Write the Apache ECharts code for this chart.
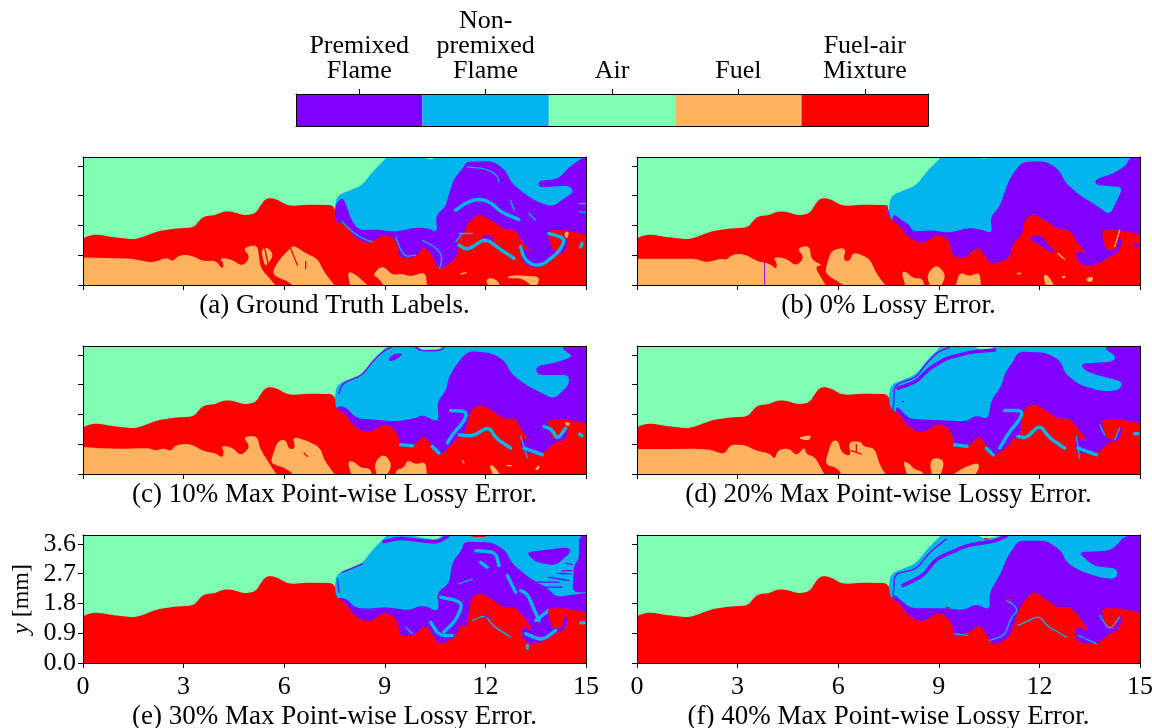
<!DOCTYPE html>
<html><head><meta charset="utf-8">
<script src="https://cdn.jsdelivr.net/npm/echarts@6/dist/echarts.min.js"></script>
<style>html,body{margin:0;padding:0;background:#fff}#c{width:1152px;height:728px}</style>
</head><body><div id="c"></div>
<script>
// Class names and colours of the colour bar
const classNames = ['Premixed\nFlame','Non-\npremixed\nFlame','Air','Fuel','Fuel-air\nMixture'];
const classColors = {P:'#8000ff',N:'#00b5eb',A:'#80ffb4',F:'#ffb360',M:'#ff0000'};
const barValues = [1,1,1,1,1];
const barKeys = ['P','N','A','F','M'];
const captions = ['(a) Ground Truth Labels.','(b) 0% Lossy Error.','(c) 10% Max Point-wise Lossy Error.','(d) 20% Max Point-wise Lossy Error.','(e) 30% Max Point-wise Lossy Error.','(f) 40% Max Point-wise Lossy Error.'];
const xTicks = [0,3,6,9,12,15];
const yTicks = [0,0.9,1.8,2.7,3.6];
const xMax = 15, yMax = 3.87;
const xUnit = 100.6, yUnit = 99.5;
const xEnd = 1509, yEnd = 385;

// Contours shared by all panels
const airBlock = [0,0,1509,0,1509,385,0,385];
const airEdge = [0,135,13,147,38,153,98,143,158,137,193,150,228,163,278,170,333,173,348,193,363,207,398,210,418,221,448,221,483,209,518,215,533,240,548,260,573,262,618,237,678,242,756,240];
const flameBlock = [756,240,763,270,838,300,868,340,898,370,923,385,1509,385,1509,0,756,0];
const lobeTail = [1448,100,1456,140,1443,140,1438,105,1408,103,1398,140,1393,165,1448,165,1509,150,1509,0,0,0];

// (a) Ground truth
const aPremixed = [756,240,778,265,790,240,803,200,826,165,878,167,938,160,998,173,1038,170,1063,157,1058,210,1088,235,1098,275,1113,320,1143,355,1148,370,1228,373,1268,345,1283,310,1323,275,1363,250,1408,235,1443,260,1473,280,1458,300,1368,293,1366,313,1428,320,1458,355,1509,385,1509,0,756,0];
const aMixture = [756,190,788,183,808,150,838,130,863,127,903,153,933,143,946,115,948,80,998,83,1018,113,1038,105,1063,55,1073,48,1108,70,1128,95,1118,125,1148,165,1153,185,1188,215,1228,193,1263,167,1298,167,1323,120,1353,93,1318,115,1313,80,1333,55,1378,53,1398,80];
const aLayers = [
 ['A',airBlock],['N',flameBlock],['A',[1008,385,1043,372,1073,385]],['P',aPremixed],['M',airEdge.concat(aMixture,lobeTail)],
 ['F',[0,83,148,79,208,67,253,83,268,70,288,90,323,90,363,70,398,75,418,47,423,63,408,83,448,77,478,55,503,85,478,110,523,123,533,50,588,0,0,0]],
 ['F',[533,105,553,115,573,90,548,50]],
 ['F',[568,40,588,75,618,107,633,120,668,95,703,80,723,40,763,0,638,0,618,10,578,25]],
 ['m',[543,120,556,60]],['m',[588,105,548,53]],['m',[623,110,643,60]],['m',[668,70,668,50]],
 ['F',[793,40,813,35,848,5,863,0,803,0]],
 ['F',[868,30,898,60,923,35,938,30,953,35,983,25,1028,40,1033,0,908,0,888,20]],
 ['F',[1128,35,1158,40,1138,30]],['F',[1208,20,1238,20,1258,0,1218,0]],
 ['F',[1268,20,1288,30,1373,25,1358,0,1318,20]],
 ['F',[1443,160,1460,160,1450,135]],
 ['P',[1198,150,1228,150,1233,125,1198,135]],
 ['n',[1153,355,1208,350,1243,330,1248,310]],
 ['n+',[1118,225,1153,250,1193,260,1228,245,1253,220,1308,197]],
 ['n',[1283,255,1293,225]],['n',[1338,215,1358,195]],
 ['n',[778,190,808,160,838,140,868,130]],
 ['n',[938,145,953,105,968,85,998,90]],
 ['n',[1018,135,1063,110,1078,85,1070,50]],
 ['n',[1128,155,1168,155]],['n',[1118,130,1138,155]],
 ['n+',[1128,120,1153,105,1208,140,1248,110,1293,80]],
 ['n+',[1313,115,1323,80,1348,60,1378,60,1428,100,1448,140,1398,155]],
 ['n+',[1493,115,1497,125]],['n',[1488,245,1509,245]],['n',[1490,220,1509,218]]
];

// (b) 0% lossy error
const bPremixed = [768,215,788,200,818,180,828,160,878,165,938,157,998,173,1038,165,1066,155,1060,205,1088,235,1103,280,1118,320,1143,355,1158,370,1228,372,1268,345,1283,310,1328,270,1378,240,1418,210,1443,260,1458,295,1378,300,1373,317,1428,335,1468,360,1478,383,1509,385,1509,0,748,0];
const bMixture = [748,235,758,200,788,180,808,150,838,130,863,127,903,153,928,143,943,115,948,85,988,80,1018,113,1033,105,1063,60,1118,80,1128,125,1158,155,1161,195,1188,215,1228,193,1263,167,1298,167,1323,125,1350,93,1318,105,1318,75,1343,55,1378,60,1418,85];
const bLayers = [
 ['A',airBlock],['N',flameBlock],['A',[1008,385,1043,375,1068,385]],['P',bPremixed],['M',airEdge.concat(bMixture,lobeTail)],
 ['p',[750,235,758,205]],
 ['F',[0,79,178,79,208,67,253,80,268,75,288,93,323,93,363,70,398,65,418,47,420,65,408,85,448,80,478,55,503,85,478,110,518,120,523,75,558,60,533,55,573,0,0,0]],
 ['F',[563,40,583,105,628,113,618,75,638,70,648,100,698,80,718,35,753,0,638,0,578,25]],
 ['F',[793,40,808,40,828,20,858,20,863,0,808,0]],
 ['F',[868,30,898,63,928,30,908,0,883,0]],
 ['F',[953,0,968,40,998,25,1028,40,1033,0]],
 ['F',[1218,30,1233,30,1258,0,1228,0]],['F',[1138,37,1158,37,1143,30]],
 ['F',[1273,27,1290,27,1278,18]],['F',[1348,20,1368,27,1368,10,1350,10]],
 ['P',[1168,140,1213,153,1233,120,1263,95,1228,105,1203,125]],
 ['P',[1488,125,1508,125,1508,115,1488,115]],
 ['f',[1263,95,1283,77]],['f',[1448,165,1433,115]],
 ['p-',[383,65,383,0]]
];

// (c) 10% max point-wise lossy error
const cPremixed = [758,203,788,203,818,168,878,163,938,158,998,168,1018,178,1068,155,1063,218,1088,248,1098,293,1113,318,1143,358,1163,370,1228,363,1268,338,1283,303,1328,268,1378,243,1413,225,1458,268,1458,298,1363,298,1358,323,1428,338,1468,353,1458,363,1433,381,1509,385,1509,0,756,0];
const cMixture = [758,195,788,181,808,148,838,128,863,125,903,151,928,141,948,113,948,83,993,83,1018,113,1033,108,1063,53,1093,73,1123,111,1148,128,1160,188,1188,211,1228,191,1263,165,1298,168,1323,118,1353,93,1318,113,1313,81,1333,58,1383,63,1418,98];
const cLayers = [
 ['A',airBlock],['N',flameBlock],['A',[998,385,1013,373,1073,375,1083,385]],
 ['p',[993,385,1013,370,1075,372,1088,385]],
 ['p',[768,243,778,273,838,298,868,338,898,368,928,383]],
 ['P',[913,338,928,361,963,363,938,343]],
 ['P',cPremixed],['M',airEdge.concat(cMixture,lobeTail)],
 ['n+',[1103,191,1153,188,1143,158,1108,118,1093,93]],
 ['n+',[1128,118,1168,113,1218,143,1238,108,1283,78]],
 ['n',[1313,113,1323,83,1333,48]],['n+',[1323,78,1378,58]],
 ['n+',[1383,143,1408,133,1423,103,1448,138]],['n+',[1490,120,1497,115]],
 ['n+',[1048,83,1068,63]],['n+',[953,88,988,85]],
 ['F',[1443,158,1463,153,1453,141]],
 ['F',[0,83,38,78,128,76,198,78,218,70,243,78,263,68,278,88,323,91,363,68,398,63,418,48,423,68,413,85,448,81,473,53,503,83,478,111,523,116,530,78,558,33,588,0,0,0]],
 ['F',[563,38,583,98,608,105,618,73,638,78,628,113,678,98,713,78,723,43,763,0,643,0,608,18,573,28]],
 ['F',[793,38,813,38,833,18,863,18,868,0,808,0]],
 ['F',[873,33,903,63,928,28,908,0,883,0]],
 ['F',[938,13,963,18,973,43,998,28,1028,38,1033,0,938,0]],
 ['F',[1218,28,1233,25,1258,0,1233,0]],['F',[1358,18,1370,28,1368,13,1356,11]],
 ['m',[548,68,556,58]],['m',[663,63,673,53]],['f',[1138,41,1143,33]],['f',[1273,25,1285,25]]
];

// (d) 20% max point-wise lossy error
const dPremixed = [778,208,808,173,828,165,878,163,988,158,1018,178,1053,163,1063,223,1093,263,1103,303,1128,338,1143,368,1228,365,1273,338,1283,303,1328,268,1398,248,1448,253,1458,278,1398,293,1348,308,1328,331,1428,338,1438,353,1398,381,1509,385,1509,0,756,0];
const dMixture = [760,195,788,181,808,148,838,128,863,125,903,153,933,141,948,113,948,81,993,81,1023,115,1038,103,1068,51,1113,83,1133,113,1148,108,1158,193,1188,213,1228,191,1263,165,1298,168,1323,138,1353,95,1318,113,1313,78,1333,58,1383,63,1418,98];
const dLayers = [
 ['A',airBlock],['N',flameBlock],['A',[1003,385,1023,373,1063,373,1083,385]],
 ['p',[768,188,773,268,838,291,868,333,903,368,938,381]],
 ['p+',[783,258,838,278,878,318,928,348,1008,368,1073,373]],
 ['p',[793,188,813,168]],['p',[796,218,800,218]],
 ['P',dPremixed],['M',airEdge.concat(dMixture,lobeTail)],
 ['n+',[1103,191,1158,191,1148,163,1118,128,1088,78]],
 ['n+',[1143,113,1168,108,1208,148,1238,108,1283,78]],
 ['n',[1318,113,1323,83,1328,48]],['n+',[1323,78,1378,58]],
 ['n',[1388,148,1403,118]],['n',[1433,103,1448,138]],['n+',[1493,121,1503,121]],
 ['n+',[1048,78,1068,58]],['n+',[953,88,990,83]],
 ['F',[0,75,78,75,178,76,223,73,263,58,278,88,323,88,363,68,398,63,413,43,423,73,458,78,478,53,503,83,508,58,533,53,568,0,0,0]],
 ['F',[488,111,523,118,518,100,488,105]],
 ['F',[563,28,583,98,603,103,613,63,643,53,633,98,673,98,678,83,713,78,728,28,753,0,618,0,603,18]],
 ['m',[658,88,658,68]],['m',[643,70,673,60]],
 ['F',[798,38,813,35,833,13,858,8,858,0,813,0]],
 ['F',[878,38,898,51,923,38,908,0,886,0]],
 ['F',[933,0,978,18,1023,35,1028,18,1008,0]]
];

// (e) 30% max point-wise lossy error
const ePremixed = [758,198,793,193,813,168,848,163,908,168,978,158,1018,175,1068,153,1063,213,1098,238,1108,303,1138,343,1143,365,1228,363,1268,338,1288,298,1343,253,1398,223,1418,198,1509,213,1509,0,756,0];
const eMixture = [758,198,788,181,808,148,838,128,863,125,903,153,933,141,948,113,948,81,993,81,1023,113,1038,103,1068,53,1118,78,1133,118,1153,108,1163,193,1188,213,1228,191,1263,165,1298,168,1323,138,1353,95,1318,113,1313,83,1333,58,1383,63,1418,91];
const eLayers = [
 ['A',airBlock],['N',flameBlock],['A',[918,385,1038,373,1068,373,1088,385]],
 ['p+',[903,365,948,376,1038,365,1068,365,1093,381]],
 ['p',[763,253,768,213]],['p',[778,273,838,298]],
 ['M',[1158,385,1218,385,1213,379,1163,379]],
 ['P',ePremixed],
 ['P',[1328,333,1448,348,1468,338,1418,293,1358,303]],
 ['P',[1488,381,1509,385,1509,213,1468,213,1473,293,1488,313]],
 ['p',[1358,243,1428,243]],['p',[1378,228,1438,228]],['p',[1398,258,1458,248]],['p',[1438,278,1468,278]],
 ['p',[1423,270,1463,268]],['p',[1448,300,1468,296]],
 ['n+',[1178,338,1238,333,1248,293]],['n+',[1193,303,1213,288]],['n',[1128,238,1168,253]],
 ['n+',[1273,263,1298,213]],['n+',[1313,218,1333,208,1368,128]],
 ['n+',[1073,198,1123,188,1138,173,1118,128,1083,93]],
 ['n',[968,108,988,88]],['n+',[1043,123,1068,83,1108,83]],
 ['n+',[1398,158,1358,128]],['n+',[1328,88,1378,68,1418,98]],
 ['M',airEdge.concat(eMixture,lobeTail)],
 ['n+',[1333,53,1333,45]],['n+',[1493,121,1503,121]],
 ['n',[1168,128,1208,145,1228,113,1283,78]],['p',[1203,143,1223,133]]
];

// (f) 40% max point-wise lossy error
const fPremixed = [770,210,795,185,815,170,828,165,928,165,978,158,1018,178,1058,158,1058,213,1093,273,1108,313,1143,368,1228,368,1273,338,1288,303,1328,278,1398,255,1438,253,1443,283,1368,293,1323,333,1418,338,1443,358,1458,378,1509,385,1509,0,756,0];
const fMixture = [760,195,788,181,808,148,838,128,863,125,903,153,928,141,948,113,948,83,993,88,1023,115,1038,103,1068,51,1118,78,1133,123,1148,168,1188,218,1228,191,1263,165,1298,171,1328,138,1358,93,1318,113,1313,78,1333,58,1383,58,1418,88];
const fLayers = [
 ['A',airBlock],['N',flameBlock],['A',[1008,385,1033,375,1068,375,1113,385]],
 ['p',[768,193,773,268,838,283,878,333,928,373]],
 ['p+',[798,233,858,263,898,313,988,353,1078,368,1108,383]],
 ['m',[1043,373,1053,373]],
 ['P',fPremixed],['M',airEdge.concat(fMixture,lobeTail)],
 ['n',[1108,188,1128,178,1143,158,1123,138,1103,83,1058,68]],
 ['n',[1143,113,1208,143,1228,113,1288,78]],
 ['n',[1323,83,1378,58]],['n',[1388,143,1418,98,1448,138]],['n',[953,88,993,83]],
 ['m',[1108,191,1128,191]],['m',[928,168,938,165]]
];

const panels = [aLayers,bLayers,cLayers,dLayers,eLayers,fLayers];
const frames = [[83,157],[637,157],[83,346],[637,346],[83,535],[637,535]];
const PW = 503, PH = 128;
const FONT = '"Liberation Serif",serif';
const strokeW = {'':1.3,'+':3.5,'-':1};
const PAD = 12;
const CUT = [10,5];

// Rounds contour corners by a small fixed amount; edges on the frame are pushed outside it.
function rounded(flat, closed){
  let p=[];
  for(let i=0;i<flat.length;i+=2){
    let x=flat[i],y=flat[i+1];
    if(closed){ if(x<=0)x=-PAD; if(x>=xEnd)x=xEnd+PAD; if(y<=0)y=-PAD; if(y>=yEnd)y=yEnd+PAD; }
    p.push([x,y]);
  }
  for(let it=0;it<2;it++){
    const q=[]; const n=p.length;
    if(!closed) q.push(p[0]);
    for(let i=0;i<(closed?n:n-1);i++){
      const a=p[i],b=p[(i+1)%n];
      const len=Math.hypot(b[0]-a[0],b[1]-a[1])||1, t=Math.min(.25,CUT[it]/len);
      q.push([a[0]+(b[0]-a[0])*t,a[1]+(b[1]-a[1])*t]);
      q.push([b[0]-(b[0]-a[0])*t,b[1]-(b[1]-a[1])*t]);
    }
    if(!closed) q.push(p[n-1]);
    p=q;
  }
  return p;
}
function renderer(layers){
  return function(params, api){
    const code = layers[params.dataIndex][0], flat = layers[params.dataIndex][1];
    const key = code[0], closed = key === key.toUpperCase();
    const pts = rounded(flat,closed).map(function(v){return api.coord([v[0]/xUnit, v[1]/yUnit]);});
    if(closed){
      return {type:'polygon',shape:{points:pts},style:{fill:classColors[key]}};
    }
    return {type:'polyline',shape:{points:pts},style:{fill:null,stroke:classColors[key.toUpperCase()],lineWidth:strokeW[code.slice(1)],lineCap:'round',lineJoin:'round'}};
  };
}

const grid=[],xAxis=[],yAxis=[],series=[],title=[];
const LINE={show:true,onZero:false,lineStyle:{color:'#000',width:1}};
const TICK={show:true,length:5,lineStyle:{color:'#000',width:1}};
panels.forEach(function(layers,i){
  const f=frames[i];
  grid.push({left:f[0],top:f[1],width:PW,height:PH,containLabel:false,outerBoundsMode:'none'});
  const bottomRow=i>=4, leftCol=i%2===0;
  xAxis.push({gridIndex:i,type:'value',min:0,max:xMax,interval:3,position:'bottom',z:5,axisLine:LINE,axisTick:TICK,splitLine:{show:false},
    axisLabel:{show:bottomRow,color:'#000',fontFamily:FONT,fontSize:26,margin:11,showMinLabel:true,showMaxLabel:true,hideOverlap:false}});
  xAxis.push({gridIndex:i,type:'value',min:0,max:xMax,position:'top',z:5,axisLine:LINE,axisTick:{show:false},axisLabel:{show:false},splitLine:{show:false}});
  yAxis.push({gridIndex:i,type:'value',min:0,max:yMax,position:'left',z:5,axisLine:LINE,
    axisTick:Object.assign({},TICK,{customValues:yTicks}),splitLine:{show:false},
    axisLabel:{show:bottomRow&&leftCol,customValues:yTicks,color:'#000',fontFamily:FONT,fontSize:26,margin:7,formatter:function(v){return v.toFixed(1);}},
    name:bottomRow&&leftCol?'{i|y} [mm]':'',nameLocation:'middle',nameRotate:90,nameGap:49,
    nameTextStyle:{color:'#000',fontFamily:FONT,fontSize:24,rich:{i:{fontStyle:'italic',fontFamily:FONT,fontSize:24,color:'#000'}}}});
  yAxis.push({gridIndex:i,type:'value',min:0,max:yMax,position:'right',z:5,axisLine:LINE,axisTick:{show:false},axisLabel:{show:false},splitLine:{show:false}});
  series.push({type:'custom',name:captions[i],coordinateSystem:'cartesian2d',xAxisIndex:2*i,yAxisIndex:2*i,clip:true,silent:true,animation:false,
    renderItem:renderer(layers),data:layers.map(function(l,k){return [k,0];}),encode:{x:0,y:1}});
  title.push({text:captions[i],left:f[0]+PW/2,top:f[1]+PH+(bottomRow?40:7),padding:0,textAlign:'center',
    textStyle:{color:'#000',fontFamily:FONT,fontSize:27,fontWeight:'normal'}});
});

// colour bar
const cb=panels.length;
grid.push({left:296,top:94,width:632,height:32,outerBoundsMode:'none'});
xAxis.push({gridIndex:cb,type:'category',data:classNames,position:'top',z:5,axisLine:LINE,
  axisTick:Object.assign({},TICK,{alignWithLabel:true}),
  axisLabel:{interval:0,color:'#000',fontFamily:FONT,fontSize:26,lineHeight:25,margin:10,verticalAlign:'bottom'},splitLine:{show:false}});
xAxis.push({gridIndex:cb,type:'category',data:classNames,position:'bottom',z:5,axisLine:LINE,axisTick:{show:false},axisLabel:{show:false}});
yAxis.push({gridIndex:cb,type:'value',min:0,max:1,position:'left',z:5,axisLine:LINE,axisTick:{show:false},axisLabel:{show:false},splitLine:{show:false}});
yAxis.push({gridIndex:cb,type:'value',min:0,max:1,position:'right',z:5,axisLine:LINE,axisTick:{show:false},axisLabel:{show:false},splitLine:{show:false}});
series.push({type:'bar',xAxisIndex:2*cb,yAxisIndex:2*cb,barWidth:'100%',silent:true,animation:false,
  data:barValues.map(function(v,i){return {value:v,itemStyle:{color:classColors[barKeys[i]]}};})});

const chart=echarts.init(document.getElementById('c'),null,{renderer:'canvas'});
chart.setOption({animation:false,backgroundColor:'#fff',title:title,grid:grid,xAxis:xAxis,yAxis:yAxis,series:series});
</script></body></html>
